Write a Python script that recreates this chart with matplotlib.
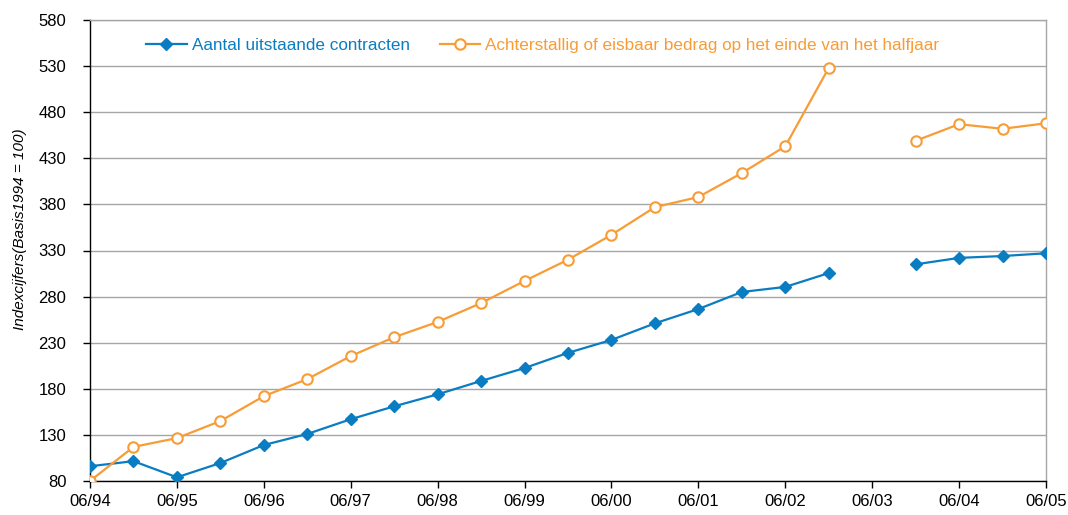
import matplotlib
matplotlib.use("Agg")
import matplotlib.pyplot as plt
import numpy as np

plt.rcParams['font.family'] = ['Liberation Sans', 'DejaVu Sans']

tick_labels = ["06/94", "06/95", "06/96", "06/97", "06/98", "06/99",
               "06/00", "06/01", "06/02", "06/03", "06/04", "06/05"]
contracts = [96, 101.5, 84, 99.5, 119, 131, 147, 161, 174, 188.5, 202.5, 219,
             233, 251, 266.5, 285, 290.5, 305.5, None, 315, 322, 324, 327]
arrears = [80, 117, 126.5, 145, 172, 190.5, 215.5, 236, 252.5, 273, 297, 320,
           347, 377, 388, 414, 443, 528, None, 449, 467, 462, 468]
label_contracts = "Aantal uitstaande contracten"
label_arrears = "Achterstallig of eisbaar bedrag op het einde van het halfjaar"

blue = "#0A7DC2"
orange = "#F89C35"

x = np.arange(len(contracts))
c = np.array([np.nan if v is None else v for v in contracts], dtype=float)
a = np.array([np.nan if v is None else v for v in arrears], dtype=float)

fig = plt.figure(figsize=(10.68, 5.15), dpi=100)
ax = fig.add_axes([90/1068, 34/515, (1046-90)/1068, (481-20)/515])

ax.plot(x, c, color=blue, lw=1.6, marker='D', ms=6.5, mfc=blue, mec=blue,
        label=label_contracts, zorder=3)
ax.plot(x, a, color=orange, lw=1.6, marker='o', ms=7.5, mfc='white', mec=orange,
        mew=1.5, label=label_arrears, zorder=3)

ax.set_xlim(0, len(contracts) - 1)
ax.set_ylim(80, 580)
ax.set_yticks(np.arange(80, 581, 50))
ax.set_xticks(np.arange(0, len(contracts), 2))
ax.set_xticklabels(tick_labels)
ax.yaxis.grid(True, color='#a6a6a6', lw=1)
ax.set_axisbelow(True)

for s in ['left', 'bottom']:
    ax.spines[s].set_color('black')
    ax.spines[s].set_linewidth(1)
for s in ['top', 'right']:
    ax.spines[s].set_color('#a6a6a6')
    ax.spines[s].set_linewidth(1)

ax.tick_params(axis='both', labelsize=12, length=5, width=1, direction='out', colors='black')
ax.tick_params(axis='x', pad=4)
ax.tick_params(axis='y', pad=12)
ax.set_ylabel("Indexcijfers(Basis1994 = 100)", fontsize=11, style='italic')
ax.yaxis.set_label_coords(-0.066, 0.547)

leg = ax.legend(loc='upper left', bbox_to_anchor=(0.0427, 0.995), ncol=2, frameon=False,
                fontsize=12.3, handlelength=2.36, columnspacing=1.77, handletextpad=0.3)
for t, col in zip(leg.get_texts(), [blue, orange]):
    t.set_color(col)

fig.savefig("out.png", dpi=100)
